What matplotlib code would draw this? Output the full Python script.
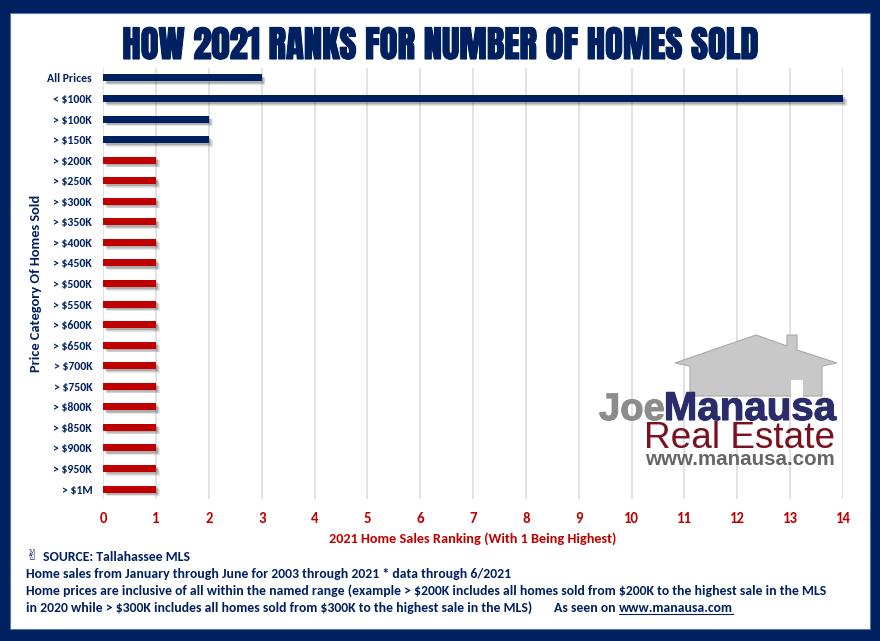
import matplotlib
matplotlib.use('Agg')
import matplotlib.pyplot as plt
import matplotlib.patheffects as pe
from matplotlib.patches import Polygon, Rectangle

categories = ['All Prices', '< $100K', '> $100K', '> $150K', '> $200K', '> $250K', '> $300K',
              '> $350K', '> $400K', '> $450K', '> $500K', '> $550K', '> $600K', '> $650K',
              '> $700K', '> $750K', '> $800K', '> $850K', '> $900K', '> $950K', '> $1M']
rankings = [3, 14, 2, 2, 1, 1, 1, 1, 1, 1, 1, 1, 1, 1, 1, 1, 1, 1, 1, 1, 1]
x_ticks = list(range(0, 15))

NAVY = '#002060'
RED = '#C00000'
W, H = 880, 641

plt.rcParams['font.family'] = ['Carlito', 'Lato', 'DejaVu Sans']
plt.rcParams['font.weight'] = 'bold'
plt.rcParams['text.parse_math'] = False

fig = plt.figure(figsize=(W / 100, H / 100), dpi=100, facecolor=NAVY)

bg = fig.add_axes([0, 0, 1, 1], zorder=0)
bg.set_xlim(0, W)
bg.set_ylim(H, 0)
bg.axis('off')
bg.add_patch(Rectangle((10, 12.5), 860, 616, facecolor='white', edgecolor='#5A74A8', linewidth=0.8))

ax = fig.add_axes([103.3 / W, 1 - 499.3 / H, 739.7 / W, 431.6 / H], zorder=1)
ax.patch.set_alpha(0)
colors = [NAVY if v > 1 else RED for v in rankings]
bars = ax.barh(range(len(categories)), rankings, height=0.34, color=colors, zorder=3, clip_on=False)
shadow = [pe.SimplePatchShadow(offset=(o, -o), shadow_rgbFace='#404040', alpha=0.13) for o in (2.6, 2.1, 1.6, 1.1)]
for b in bars:
    b.set_path_effects(shadow + [pe.Normal()])
ax.set_ylim(len(categories) - 0.5, -0.5)
ax.set_xlim(0, 14)
ax.set_yticks(range(len(categories)))
ax.set_yticklabels(categories, color=NAVY, fontsize=8.5)
ax.set_xticks(x_ticks)
ax.set_xticklabels(x_ticks, color=RED, fontsize=10.6)
ax.tick_params(axis='both', length=0)
ax.tick_params(axis='y', pad=8)
ax.tick_params(axis='x', pad=9)
ax.grid(axis='x', color='#DDDDDD', linewidth=1.2, zorder=0)
ax.set_axisbelow(True)
for s in ax.spines.values():
    s.set_visible(False)

fig.text(473 / W, 1 - 538.5 / H, '2021 Home Sales Ranking (With 1 Being Highest)', color=RED,
         fontsize=10.3, ha='center', va='center')
fig.text(36 / W, 1 - 283 / H, 'Price Category Of Homes Sold', color=NAVY, fontsize=10.4,
         rotation=90, ha='center', va='center')

fig.text(440 / W, 1 - 45 / H, 'HOW 2021 RANKS FOR NUMBER OF HOMES SOLD', color=NAVY,
         family=['Anton', 'DejaVu Sans'], weight='normal', fontsize=26.45, ha='center', va='center',
         path_effects=[pe.withStroke(linewidth=0.8, foreground=NAVY)])

top = fig.add_axes([0, 0, 1, 1], zorder=2)
top.set_xlim(0, W)
top.set_ylim(H, 0)
top.axis('off')
house = [(675, 363), (756, 335), (787, 346), (787, 335), (797, 335), (797, 350), (837, 363),
         (822, 366), (822, 396), (690, 396), (690, 366)]
top.add_patch(Polygon(house, closed=True, facecolor='#C8C8C8', edgecolor='#A8A8A8', linewidth=0.8))
top.add_patch(Rectangle((791, 380), 12, 17, facecolor='white', edgecolor='none'))
top.text(599, 420, 'Joe', color='#8C8C8C', fontsize=27.5, family=['Liberation Sans', 'DejaVu Sans'],
         weight='bold', ha='left', va='baseline',
         path_effects=[pe.withStroke(linewidth=0.8, foreground='#8C8C8C')])
top.text(836, 420, 'Manausa', color='#2B2D6B', fontsize=29, family=['Liberation Sans', 'DejaVu Sans'],
         weight='bold', ha='right', va='baseline',
         path_effects=[pe.withStroke(linewidth=0.8, foreground='#2B2D6B')])
top.text(835, 448, 'Real Estate', color='#7A1020', fontsize=26.6, family=['Liberation Sans', 'DejaVu Sans'],
         weight='normal', ha='right', va='baseline')
top.text(835, 465, 'www.manausa.com', color='#666666', fontsize=14.8,
         family=['Liberation Sans', 'DejaVu Sans'], weight='bold', ha='right', va='baseline')

top.text(32, 555, '\u270C', color=NAVY, fontsize=11, family=['DejaVu Sans'], ha='center', va='center')
note_size = 9.9
top.text(43, 557, 'SOURCE: Tallahassee MLS', color=NAVY, fontsize=note_size, va='center')
top.text(26, 574, 'Home sales from January through June for 2003 through 2021 * data through 6/2021',
         color=NAVY, fontsize=note_size, va='center')
top.text(26, 591, 'Home prices are inclusive of all within the named range (example > $200K includes all homes sold from $200K to the highest sale in the MLS',
         color=NAVY, fontsize=note_size, va='center')
top.text(26, 608, 'in 2020 while > $300K includes all homes sold from $300K to the highest sale in the MLS)',
         color=NAVY, fontsize=note_size, va='center')
top.text(554, 608, 'As seen on', color=NAVY, fontsize=note_size, va='center')
top.text(619, 608, 'www.manausa.com', color=NAVY, fontsize=note_size, va='center')
top.plot([619, 733], [614, 614], color=NAVY, linewidth=0.8)

fig.savefig('out.png', dpi=100, facecolor=NAVY)
